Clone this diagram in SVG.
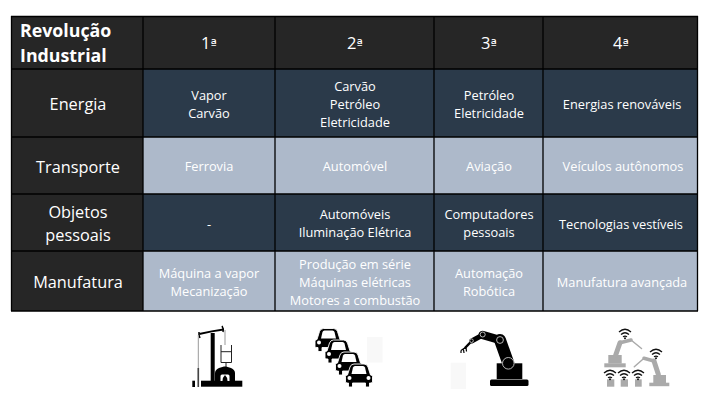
<svg xmlns="http://www.w3.org/2000/svg" width="714" height="408" viewBox="0 0 714 408">
<defs><style>
text{font-family:"Open Sans","Noto Sans","Liberation Sans",sans-serif;text-anchor:middle}
.t{fill:#fff;font-size:17.800px;font-weight:700;text-anchor:start}
.h{fill:#fff;font-size:16.500px}
.o{font-family:"DejaVu Sans",sans-serif;font-size:13.500px}
.c{fill:#fff;font-size:12.800px}
.l{fill:#fff;font-size:16.300px}
.d{fill:#2b3a4a}.b{fill:#adb9ca}.k{fill:#262626}
.ln{stroke:#000;stroke-width:1.300;fill:none}
.g{fill:#aaa}
.gs{stroke:#aaa;fill:none;stroke-linecap:round;stroke-linejoin:round}
.w{fill:none;stroke:#111;stroke-width:1.300}
.j{fill:none;stroke:#c8c8c8;stroke-width:.9}
</style>
<g id="car"><path stroke="#fff" stroke-width=".9" d="M0 12.500Q0 11 2 11L4.500 3Q5.500 0 8.500 0H18.500Q21.500 0 22.500 3L25 11Q27 11 27 12.500V18Q27 19 25 19H24V23H20V19H7V23H3V19H2Q0 19 0 18Z"/><path fill="#fff" d="M6 10L7.500 3.500Q8 2 9.500 2H17.500Q19 2 19.500 3.500L21 10Z"/><circle cx="4" cy="14" r="2" fill="#fff"/><circle cx="23" cy="14" r="2" fill="#fff"/></g>
<g id="wifi"><path class="w" d="M-6 3.500Q0-2 6 3.500M-4 6Q0 2.500 4 6M-2 8.300Q0 7 2 8.300"/><circle cy="9.800" r="1" fill="#111"/></g>
</defs>
<rect width="714" height="408" fill="#fff"/>
<g id="header">
<rect class="k" x="11" y="16" width="687" height="53"/>
<text class="t" x="20" y="37">Revolução</text>
<text class="t" x="20" y="62">Industrial</text>
<text class="h" x="209" y="49">1<tspan class="o">ª</tspan></text><text class="h" x="355" y="49">2<tspan class="o">ª</tspan></text><text class="h" x="489" y="49">3<tspan class="o">ª</tspan></text><text class="h" x="621" y="49">4<tspan class="o">ª</tspan></text>
</g>
<g id="energia">
<rect class="k" x="11" y="69" width="132" height="68"/><rect class="d" x="143" y="69" width="555" height="68"/>
<text class="l" x="78" y="110">Energia</text>
<text class="c" x="209" y="100">Vapor</text><text class="c" x="209" y="118">Carvão</text>
<text class="c" x="355" y="91">Carvão</text><text class="c" x="355" y="109">Petróleo</text><text class="c" x="355" y="127">Eletricidade</text>
<text class="c" x="489" y="100">Petróleo</text><text class="c" x="489" y="118">Eletricidade</text>
<text class="c" x="622" y="109">Energias renováveis</text>
</g>
<g id="transporte">
<rect class="k" x="11" y="137" width="132" height="57"/><rect class="b" x="143" y="137" width="555" height="57"/>
<text class="l" x="78" y="173">Transporte</text>
<text class="c" x="209" y="171">Ferrovia</text><text class="c" x="355" y="171">Automóvel</text><text class="c" x="489" y="171">Aviação</text><text class="c" x="623" y="171">Veículos autônomos</text>
</g>
<g id="objetos">
<rect class="k" x="11" y="194" width="132" height="57"/><rect class="d" x="143" y="194" width="555" height="57"/>
<text class="l" x="78" y="218">Objetos</text><text class="l" x="78" y="241">pessoais</text>
<text class="c" x="209" y="229">-</text>
<text class="c" x="355" y="219">Automóveis</text><text class="c" x="355" y="237">Iluminação Elétrica</text>
<text class="c" x="489" y="219">Computadores</text><text class="c" x="489" y="237">pessoais</text>
<text class="c" x="621" y="229">Tecnologias vestíveis</text>
</g>
<g id="manufatura">
<rect class="k" x="11" y="251" width="132" height="60"/><rect class="b" x="143" y="251" width="555" height="60"/>
<text class="l" x="78" y="288">Manufatura</text>
<text class="c" x="209" y="278">Máquina a vapor</text><text class="c" x="209" y="296">Mecanização</text>
<text class="c" x="355" y="269">Produção em série</text><text class="c" x="355" y="287">Máquinas elétricas</text><text class="c" x="355" y="305">Motores a combustão</text>
<text class="c" x="489" y="278">Automação</text><text class="c" x="489" y="296">Robótica</text>
<text class="c" x="622" y="287">Manufatura avançada</text>
</g>
<g id="connectors">
<path class="ln" d="M11 16.500H698M11 69H698M11 137H698M11 194H698M11 251H698M11 311H698M11.500 16V311M143 16V311M275 16V311M434 16V311M543 16V311M697.500 16V311"/>
</g>
<g id="icon-vapor">
<rect x="201" y="380.700" width="41.300" height="6"/>
<rect x="210.700" y="333" width="4" height="48"/>
<path d="M199.300 334Q212 331 223.500 329.500" fill="none" stroke="#000" stroke-width="1.800"/>
<path d="M199 332q-.5 3 1 6M222 326q2 3 1 6" stroke="#000" stroke-width="1.500" fill="none"/>
<path d="M198.300 335V387M225 330V345" stroke="#999" stroke-width="1" fill="none"/>
<rect x="197.500" y="368" width="1.600" height="19" fill="#444"/><rect x="192.300" y="380.700" width="2.700" height="6.300"/>
<path d="M221 345V362.500H231.500V345M221 351.700H231.500M226 362.500V367" stroke="#222" fill="none"/>
<path d="M215 381V373Q215 370 219 368L224 366.500H226L231 368Q235 370 235 373V381Z"/>
<path d="M220.500 381V376Q220.500 374.500 222 374.500H228Q229.500 374.500 229.500 376V381Z" fill="#fff"/>
<path d="M225 375q3 3 2.500 6h-5q-.5-3 2.500-6z"/>
</g>
<g id="icon-carros">
<use href="#car" x="315" y="328.500"/>
<use href="#car" x="325" y="340"/>
<use href="#car" x="335.500" y="352"/>
<use href="#car" x="345.500" y="364"/>
<rect x="367" y="337" width="15.500" height="25.500" fill="#f8f8f8"/>
</g>
<g id="icon-robo">
<rect x="450.700" y="362.700" width="15.300" height="26.300" fill="#f8f8f8"/>
<rect x="490" y="379.500" width="38.500" height="6.500" rx="1.500"/><rect x="496.700" y="363.300" width="25.600" height="15.700"/>
<path d="M508.300 363.300L500 340" stroke="#000" stroke-width="12" stroke-linecap="round" fill="none"/>
<path d="M500 340L482.700 335" stroke="#000" stroke-width="8.500" stroke-linecap="round" fill="none"/>
<path d="M482.700 335L471.700 341" stroke="#000" stroke-width="5" stroke-linecap="round" fill="none"/>
<path d="M471.700 341L465 348" stroke="#000" stroke-width="2.500" fill="none"/>
<path d="M466 347L461 350.500M461 350.500V353M466 347.500L466.500 351.500M463.500 349.500L464 353" stroke="#000" stroke-width="1.200" fill="none"/>
<circle class="j" cx="508.300" cy="363.300" r="5.800"/><circle class="j" cx="500" cy="340" r="3.400"/><circle class="j" cx="482.700" cy="334.500" r="2.500"/><circle class="j" cx="471.500" cy="340.700" r="1.800"/>
</g>
<g id="icon-iot">
<rect class="g" x="604.300" y="363.300" width="21.400" height="4"/><rect class="g" x="608.300" y="355" width="13.400" height="8.500"/>
<path class="gs" stroke-width="5" d="M615.700 355L620 342.700"/><path class="gs" stroke-width="3.500" d="M620 342.700L631 340"/><path class="gs" stroke-width="1.500" d="M631 340L641.500 348.500"/>
<rect class="g" x="649.300" y="382.700" width="20" height="3.500"/><rect class="g" x="653.300" y="375" width="12.700" height="8"/>
<path class="gs" stroke-width="5" d="M658.300 374.300L654 361"/><path class="gs" stroke-width="3.500" d="M654 361L644 358.300"/><path class="gs" stroke-width="1.500" d="M644 358.300L634.300 366.700"/>
<rect class="g" x="607" y="379.300" width="7.300" height="7.400"/><rect class="g" x="620.700" y="379.300" width="7.300" height="7.400"/><rect class="g" x="635" y="379.300" width="6.700" height="7.400"/>
<use href="#wifi" x="625" y="328.500"/><use href="#wifi" x="656" y="348.500"/><use href="#wifi" x="610" y="369.500"/><use href="#wifi" x="624" y="369.500"/><use href="#wifi" x="638" y="369.500"/>
</g>
</svg>
